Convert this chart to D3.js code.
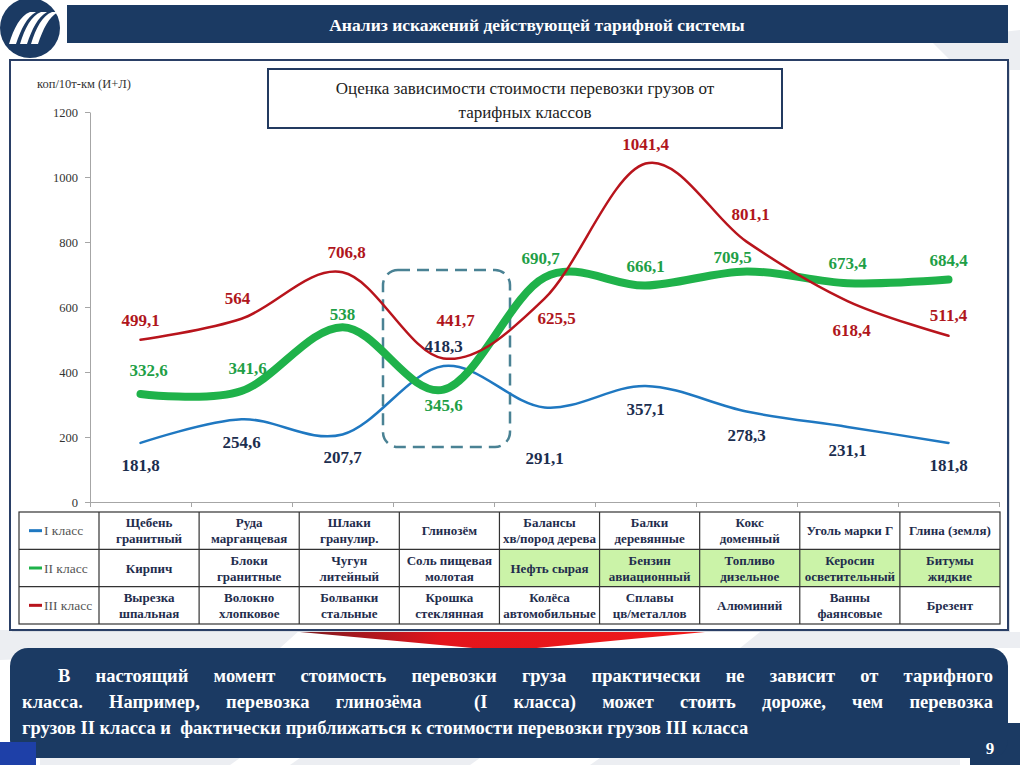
<meta charset="utf-8" />
<script src="https://d3js.org/d3.v7.min.js"></script>
<style>
  body { margin: 0; background: #fff; font-family: 'Liberation Serif', serif; }
  svg { display: block; }
</style>
<div id="chart"></div>
<script>
  // values
  const seriesNames = ['I класс', 'II класс', 'III класс'];
  const classI = [181.8, 254.6, 207.7, 418.3, 291.1, 357.1, 278.3, 231.1, 181.8];
  const classII = [332.6, 341.6, 538, 345.6, 690.7, 666.1, 709.5, 673.4, 684.4];
  const classIII = [499.1, 564, 706.8, 441.7, 625.5, 1041.4, 801.1, 618.4, 511.4];
  const yTicks = [0, 200, 400, 600, 800, 1000, 1200];

  const rowI = ['Щебень|гранитный', 'Руда|марганцевая', 'Шлаки|гранулир.', 'Глинозём', 'Балансы|хв/пород дерева',
    'Балки|деревянные', 'Кокс|доменный', 'Уголь марки Г', 'Глина (земля)'];
  const rowII = ['Кирпич', 'Блоки|гранитные', 'Чугун|литейный', 'Соль пищевая|молотая', 'Нефть сырая',
    'Бензин|авиационный', 'Топливо|дизельное', 'Керосин|осветительный', 'Битумы|жидкие'];
  const rowIII = ['Вырезка|шпальная', 'Волокно|хлопковое', 'Болванки|стальные', 'Крошка|стеклянная',
    'Колёса|автомобильные', 'Сплавы|цв/металлов', 'Алюминий', 'Ванны|фаянсовые', 'Брезент'];
  const oilCells = [4, 5, 6, 7, 8]; // row II cells shaded green

  // label placement (pixel offsets from the point)
  const labelDyI = [22, 23, 23, -20, 51, 23, 23, 23, 22];
  const labelDyII = [-24, -23, -13, 15, -20, -20, -14, -20, -20];
  const labelDxII = [8, 6, 0, 0, -4, 0, -14, 0, 0];
  const labelDyIII = [-20, -21, -20, -38, 19, -20, -28, 29, -21];
  const labelDxIII = [0, -4, 4, 12, 12, 0, 4, 4, 0];

  const navy = '#1b3a63';
  const serif = 'Liberation Serif';
  const W = 1020, H = 765;

  const svg = d3.select('#chart').append('svg').attr('width', W).attr('height', H)
    .attr('font-family', serif);
  const face = (sel) => sel.attr('font-family', serif).style('font-family', "'Liberation Serif'");
  const txt = (sel) => face(sel.append('text'));

  // faint background stripes
  const bg = svg.append('g').attr('fill', '#eceef2');
  bg.append('polygon').attr('points', '930,40 1020,30 1020,70 960,70');
  bg.append('polygon').attr('points', '0,630 300,630 280,648 0,660');
  bg.append('polygon').attr('points', '760,632 1020,632 1020,648 740,648');
  bg.append('polygon').attr('points', '40,758 240,758 230,765 40,765');
  bg.append('polygon').attr('points', '300,758 480,758 470,765 290,765');
  bg.append('polygon').attr('points', '600,758 960,758 960,765 590,765');

  // header
  svg.append('rect').attr('x', 67).attr('y', 5).attr('width', 941).attr('height', 38).attr('fill', navy);
  txt(svg).attr('x', 537).attr('y', 31).attr('text-anchor', 'middle')
    .attr('fill', '#fff').attr('font-weight', 'bold').attr('font-size', 17.5)
    .text('Анализ искажений действующей тарифной системы');

  // logo
  const logo = svg.append('g');
  logo.append('circle').attr('cx', 30).attr('cy', 28).attr('r', 30).attr('fill', navy);
  [0, 1, 2].forEach(function (k) {
    const o = k * 11;
    logo.append('path')
      .attr('d', `M${9 + o},44 C${14 + o},28 ${20 + o},16 ${30 + o},12 L${36 + o},12 C${27 + o},17 ${21 + o},29 ${16 + o},44 Z`)
      .attr('fill', '#fff');
  });

  // main panel
  svg.append('rect').attr('x', 12).attr('y', 62).attr('width', 998).attr('height', 570).attr('fill', '#d9dde3');
  svg.append('rect').attr('x', 10).attr('y', 60).attr('width', 998).attr('height', 570)
    .attr('fill', '#fff').attr('stroke', '#2a3f66').attr('stroke-width', 2);

  // chart title box
  svg.append('rect').attr('x', 268).attr('y', 69).attr('width', 514).attr('height', 59)
    .attr('fill', '#fff').attr('stroke', '#233a60').attr('stroke-width', 2);
  txt(svg).attr('x', 525).attr('y', 94).attr('text-anchor', 'middle')
    .attr('fill', '#222').attr('font-size', 17).text('Оценка зависимости стоимости перевозки грузов от');
  txt(svg).attr('x', 525).attr('y', 118).attr('text-anchor', 'middle')
    .attr('fill', '#222').attr('font-size', 17).text('тарифных классов');

  txt(svg).attr('x', 37).attr('y', 88).attr('fill', '#333').attr('font-size', 12.5)
    .text('коп/10т-км (И+Л)');

  // scales
  const x = d3.scaleBand().domain(d3.range(classI.length)).range([90, 999]);
  const xEdge = d3.scaleLinear().domain([0, classI.length]).range([90, 999]);
  const y = d3.scaleLinear().domain([0, 1200]).range([502, 112]);
  const cx = (i) => x(i) + x.bandwidth() / 2;

  const yAxis = svg.append('g').attr('transform', 'translate(90,0)')
    .call(d3.axisLeft(y).tickValues(yTicks).tickFormat(d3.format('d')).tickSize(5).tickSizeOuter(0).tickPadding(7));
  yAxis.attr('font-family', serif);
  yAxis.selectAll('path, line').attr('stroke', '#a6a6a6');
  face(yAxis.selectAll('text')).attr('font-size', 12.5).attr('fill', '#333');

  const xAxis = svg.append('g').attr('transform', 'translate(0,502)')
    .call(d3.axisBottom(xEdge).tickValues(d3.range(classI.length + 1)).tickFormat('').tickSize(5).tickSizeOuter(0));
  xAxis.attr('font-family', serif);
  xAxis.selectAll('text').remove();
  xAxis.selectAll('path, line').attr('stroke', '#a6a6a6');

  // dashed highlight around Глинозём
  svg.append('rect').attr('x', 383).attr('y', 270).attr('width', 127).attr('height', 177)
    .attr('rx', 15).attr('fill', 'none').attr('stroke', '#4a8294').attr('stroke-width', 2.5)
    .attr('stroke-dasharray', '12,7');

  const line = d3.line().x((d, i) => cx(i)).y((d) => y(d)).curve(d3.curveCardinal.tension(0));

  const series = [
    { name: seriesNames[0], values: classI, color: '#1f78c1', width: 2.5, label: '#1c2e4f', dy: labelDyI, dx: null },
    { name: seriesNames[1], values: classII, color: '#1fb24a', width: 8, label: '#1f9f47', dy: labelDyII, dx: labelDxII },
    { name: seriesNames[2], values: classIII, color: '#b8141c', width: 2.5, label: '#b0161c', dy: labelDyIII, dx: labelDxIII },
  ];

  series.forEach(function (s) {
    svg.append('path').datum(s.values).attr('d', line).attr('fill', 'none')
      .attr('stroke', s.color).attr('stroke-width', s.width).attr('stroke-linecap', 'round');
  });

  const fmt = (v) => String(v).replace('.', ',');
  series.forEach(function (s) {
    face(svg.append('g').selectAll('text').data(s.values).join('text'))
      .attr('x', (d, i) => cx(i) + (s.dx ? s.dx[i] : 0))
      .attr('y', (d, i) => y(d) + s.dy[i] + 6)
      .attr('text-anchor', 'middle').attr('font-weight', 'bold').attr('font-size', 17)
      .attr('fill', s.label).text(fmt);
  });

  // table
  const rows = [rowI, rowII, rowIII];
  const colX = d3.scaleBand().domain(d3.range(rowI.length)).range([99, 1000]);
  const rowY = d3.scaleBand().domain(d3.range(rows.length)).range([512, 624]);
  const table = svg.append('g');

  oilCells.forEach(function (c) {
    table.append('rect').attr('x', colX(c)).attr('y', rowY(1))
      .attr('width', colX.bandwidth()).attr('height', rowY.bandwidth()).attr('fill', '#cbf3a8');
  });

  rows.forEach(function (row, r) {
    row.forEach(function (cell, c) {
      const parts = cell.split('|');
      const t = txt(table).attr('text-anchor', 'middle').attr('font-weight', 'bold')
        .attr('font-size', 13).attr('fill', '#1f2d4d');
      const mid = rowY(r) + rowY.bandwidth() / 2;
      parts.forEach(function (p, k) {
        t.append('tspan').attr('x', colX(c) + colX.bandwidth() / 2)
          .attr('y', mid + 4.5 + (k - (parts.length - 1) / 2) * 16).text(p);
      });
    });
    // legend cell
    const my = rowY(r) + rowY.bandwidth() / 2;
    table.append('line').attr('x1', 29).attr('x2', 42).attr('y1', my).attr('y2', my)
      .attr('stroke', series[r].color).attr('stroke-width', 3);
    txt(table).attr('x', 44).attr('y', my + 4.5).attr('font-size', 13.5)
      .attr('fill', '#555').text(seriesNames[r]);
  });

  const grid = table.append('g').attr('stroke', '#333').attr('stroke-width', 1.2);
  grid.append('rect').attr('x', 19).attr('y', 512).attr('width', 981).attr('height', 112).attr('fill', 'none');
  d3.range(1, rows.length).forEach(function (r) {
    grid.append('line').attr('x1', 19).attr('x2', 1000).attr('y1', rowY(r)).attr('y2', rowY(r));
  });
  d3.range(rowI.length).forEach(function (c) {
    grid.append('line').attr('x1', colX(c)).attr('x2', colX(c)).attr('y1', 512).attr('y2', 624);
  });

  // red arrow under table
  const grad = svg.append('defs').append('linearGradient').attr('id', 'redArrow');
  grad.append('stop').attr('offset', '0%').attr('stop-color', '#7a1a20');
  grad.append('stop').attr('offset', '35%').attr('stop-color', '#e3141c');
  grad.append('stop').attr('offset', '100%').attr('stop-color', '#f01a1a');
  svg.append('polygon').attr('points', '300,632 705,632 505,651').attr('fill', 'url(#redArrow)');

  // conclusion box
  svg.append('rect').attr('x', 970).attr('y', 723).attr('width', 50).attr('height', 42).attr('fill', navy);
  svg.append('rect').attr('x', 10).attr('y', 648).attr('width', 998).attr('height', 110).attr('rx', 18).attr('fill', navy);
  svg.append('rect').attr('x', 0).attr('y', 742).attr('width', 36).attr('height', 23).attr('fill', '#1e40a8');

  const lines = [
    { t: 'В настоящий момент стоимость перевозки груза практически не зависит от тарифного', x: 58, y: 682, len: 935 },
    { t: 'класса. Например, перевозка глинозёма  (I класса) может стоить дороже, чем перевозка', x: 22, y: 708, len: 971 },
    { t: 'грузов II класса и  фактически приближаться к стоимости перевозки грузов III класса', x: 22, y: 734, len: null },
  ];
  lines.forEach(function (l) {
    const t = txt(svg).attr('x', l.x).attr('y', l.y).attr('fill', '#fff')
      .attr('font-weight', 'bold').attr('font-size', 18.5).attr('xml:space', 'preserve').text(l.t);
    if (l.len) {
      // justify by widening the gaps between words only
      const natural = t.node().getComputedTextLength();
      const gaps = (l.t.match(/ /g) || []).length;
      t.attr('word-spacing', Math.max(0, (l.len - natural) / gaps));
    }
  });

  txt(svg).attr('x', 990).attr('y', 754).attr('text-anchor', 'middle')
    .attr('fill', '#fff').attr('font-weight', 'bold').attr('font-size', 17).text('9');
</script>
